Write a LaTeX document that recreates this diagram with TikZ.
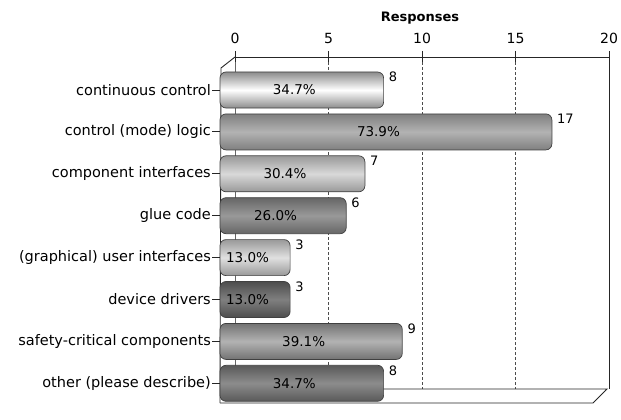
\documentclass[tikz,border=0pt]{standalone}
\usepackage{fontspec}
\setmainfont{DejaVu Sans}
\begin{document}
\begin{tikzpicture}[x=1pt,y=-1pt,
  cat/.style={anchor=east,font=\fontsize{14.5}{16}\selectfont,inner sep=0pt},
  val/.style={anchor=west,font=\fontsize{13}{15}\selectfont,inner sep=0pt},
  pct/.style={font=\fontsize{13.5}{15}\selectfont,inner sep=0pt},
  tick/.style={font=\fontsize{14}{16}\selectfont,inner sep=0pt},
  frame/.style={line width=0.9pt,black!85},
  grid/.style={densely dashed,line width=0.6pt,black!70},
  barline/.style={draw=black!75,line width=0.7pt}]
\useasboundingbox (0,0) rectangle (621,420);
% back plane grid
\foreach \v in {5,10,15}{
  \draw[grid] ({235+\v*18.7},57) -- ({235+\v*18.7},389);
}
\draw[frame] (609,57) -- (609,389);
\draw[line width=0.5pt,black!60] (235,57) -- (235,389);
% floor
\draw[frame] (235,389) -- (607,389) -- (593,403) -- (220,403);
% left front wall
\draw[frame] (235,57) -- (221,68) -- (220,403);
% top axis
\draw[frame] (235,57) -- (609,57);
\foreach \v in {0,5,10,15,20}{
  \draw[frame] ({235+\v*18.7},51) -- ({235+\v*18.7},62);
  \node[tick] (t\v) at ({235+\v*18.7},38) {\v};
}
\node[font=\bfseries\fontsize{13}{15}\selectfont] (title) at (420,18) {Responses};
% bars
\foreach \i/\val/\p/\ca/\cb/\lab in {
  0/8/34.7\%/black!45/white/continuous control,
  1/17/73.9\%/black!50/black!30/control (mode) logic,
  2/7/30.4\%/black!40/black!15/component interfaces,
  3/6/26.0\%/black!60/black!40/glue code,
  4/3/13.0\%/black!40/black!12/(graphical) user interfaces,
  5/3/13.0\%/black!70/black!50/device drivers,
  6/9/39.1\%/black!55/black!30/safety-critical components,
  7/8/34.7\%/black!65/black!45/other (please describe)}{
  \pgfmathsetmacro{\yc}{90+\i*41.9}
  \pgfmathsetmacro{\xe}{234+\val*18.7}
  \shade[rounded corners=6pt,top color=\ca,bottom color=\ca,middle color=\cb,barline]
     (220,{\yc-18}) rectangle (\xe,{\yc+18});
  \node[pct] (p\i) at ({(205+\xe)/2},\yc) {\p};
  \node[val] (v\i) at ({\xe+5},{\yc-13}) {\val};
  \node[cat] (c\i) at (211,\yc) {\lab};
  \draw[frame] (c\i.east) ++(1,0) -- (220,\yc);
}
\end{tikzpicture}
\end{document}
